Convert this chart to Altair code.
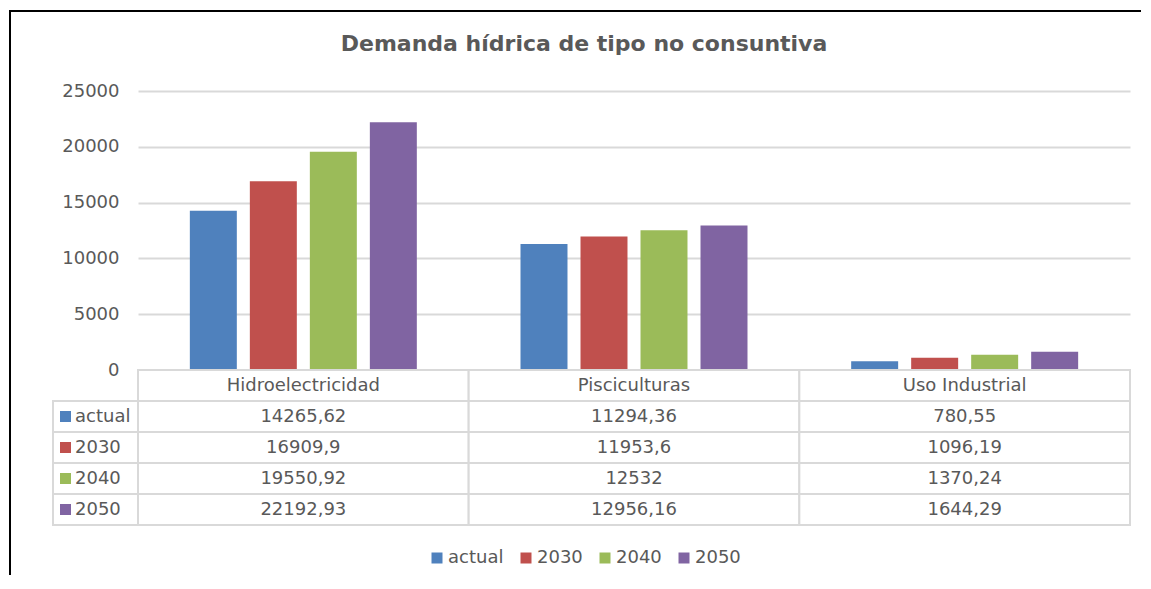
import altair as alt
import pandas as pd

# ---- data ----
categories = ["Hidroelectricidad", "Pisciculturas", "Uso Industrial"]
series = ["actual", "2030", "2040", "2050"]
actual = [14265.62, 11294.36, 780.55]
y2030 = [16909.9, 11953.6, 1096.19]
y2040 = [19550.92, 12532, 1370.24]
y2050 = [22192.93, 12956.16, 1644.29]
colors = ["#4F81BD", "#C0504D", "#9BBB59", "#8064A2"]
y_ticks = [0, 5000, 10000, 15000, 20000, 25000]
title_text = "Demanda hídrica de tipo no consuntiva"

values_by_series = dict(zip(series, [actual, y2030, y2040, y2050]))

rows = []
for s in series:
    for c, v in zip(categories, values_by_series[s]):
        rows.append({"category": c, "series": s, "value": v,
                     "label": str(v).replace(".", ",")})
df = pd.DataFrame(rows)

header = pd.DataFrame({"category": categories, "row": "header", "label": categories})
body = df.assign(row=df["series"])[["category", "row", "label"]]
table_df = pd.concat([header, body], ignore_index=True)
row_domain = ["header"] + series
left_df = pd.DataFrame({"row": series, "series": series})
one = pd.DataFrame({"k": [0]})

FONT = "DejaVu Sans"
TXT = "#595959"
GRID = "#d9d9d9"

W_LEFT = 85
W_PLOT = 992
H_PLOT = 279
H_TABLE = 155

legend = alt.Legend(title=None, orient="none", direction="horizontal",
                    legendX=375, legendY=458, symbolType="square",
                    symbolSize=121, symbolStrokeWidth=0, labelFontSize=18,
                    labelColor=TXT, labelFont=FONT, labelOffset=2,
                    columnPadding=13, padding=0)
color = alt.Color("series:N", scale=alt.Scale(domain=series, range=colors), legend=legend)

x_band = alt.X("category:N", sort=categories,
               scale=alt.Scale(domain=categories, paddingInner=0, paddingOuter=0),
               axis=None)
y_rows = alt.Y("row:N", sort=row_domain,
               scale=alt.Scale(domain=row_domain, paddingInner=0, paddingOuter=0),
               axis=None)

# ---- corner cell with the outer frame ----
frame_v = alt.Chart(one).mark_rule(color="black", strokeWidth=2).encode(
    x=alt.value(-43), y=alt.value(-80), y2=alt.value(484))
frame_h = alt.Chart(one).mark_rule(color="black", strokeWidth=2).encode(
    x=alt.value(-44), x2=alt.value(1088), y=alt.value(-80))
corner = alt.layer(frame_v, frame_h).properties(width=W_LEFT, height=H_PLOT)

# ---- bar chart ----
bars = alt.Chart(df, title=alt.TitleParams(
    text=title_text, fontSize=22, fontWeight="bold", color=TXT, font=FONT,
    anchor="middle", frame="group", dx=-50, offset=26)).mark_bar().encode(
    x=x_band,
    xOffset=alt.XOffset("series:N", scale=alt.Scale(domain=series, paddingInner=0.217,
                                                     paddingOuter=0.864)),
    y=alt.Y("value:Q", scale=alt.Scale(domain=[0, 25000], nice=False),
            axis=alt.Axis(values=y_ticks, format="d", title=None, grid=True,
                          gridColor=GRID, gridWidth=2, domain=False, ticks=False,
                          labelFontSize=18, labelColor=TXT, labelFont=FONT,
                          labelPadding=19)),
    color=color,
).properties(width=W_PLOT, height=H_PLOT)

# ---- left legend-column of the data table ----
left_cells = alt.Chart(left_df).mark_rect(fill="white", stroke=GRID, strokeWidth=2).encode(
    y=y_rows)
left_sw = alt.Chart(left_df).mark_square(size=121, opacity=1).encode(
    x=alt.value(12.5), y=y_rows, color=color)
left_txt = alt.Chart(left_df).mark_text(align="left", baseline="middle", fontSize=18,
                                        color=TXT, font=FONT).encode(
    x=alt.value(22), y=y_rows, text="series:N")
left_table = alt.layer(left_cells, left_sw, left_txt).properties(width=W_LEFT, height=H_TABLE)

# ---- data table ----
cells = alt.Chart(table_df).mark_rect(fill="white", stroke=GRID, strokeWidth=2).encode(
    x=x_band, y=y_rows)
cell_txt = alt.Chart(table_df).mark_text(baseline="middle", fontSize=18, color=TXT,
                                         font=FONT).encode(
    x=x_band, y=y_rows, text="label:N")
right_table = alt.layer(cells, cell_txt).properties(width=W_PLOT, height=H_TABLE)

chart = alt.ConcatChart(
    concat=[corner, bars, left_table, right_table], columns=2, spacing=0, bounds="flush"
).resolve_scale(x="independent", y="independent", color="shared").properties(
    padding={"left": 0, "top": 2, "right": 0, "bottom": 0}
).configure_view(stroke=None)

chart.save("out.html", embed_options={"renderer": "svg", "actions": False})
